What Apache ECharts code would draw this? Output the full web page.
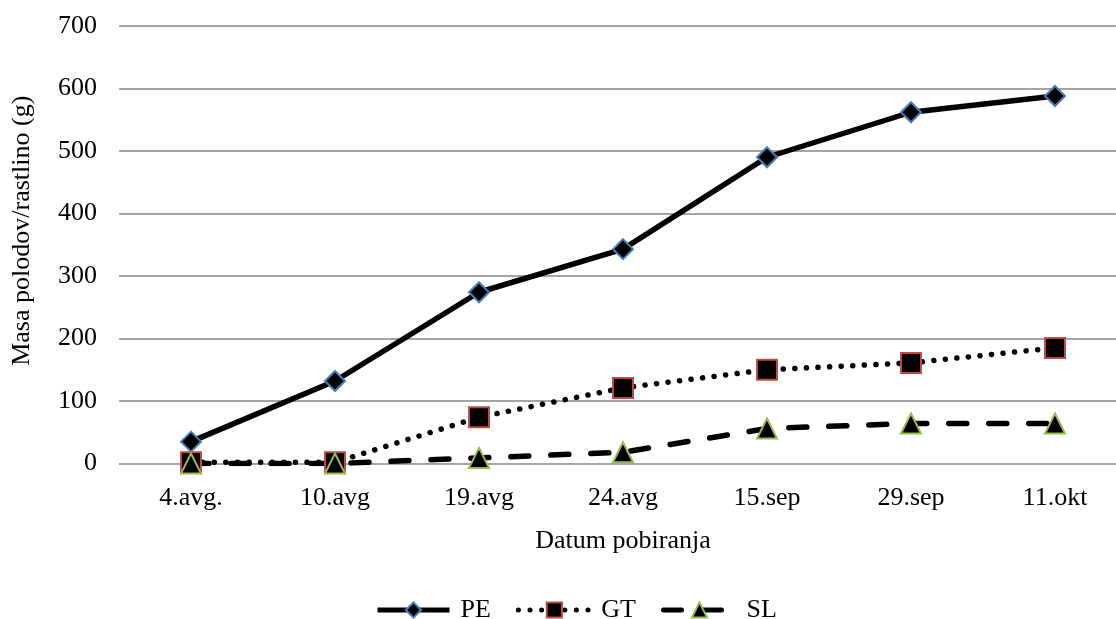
<!DOCTYPE html>
<html>
<head>
<meta charset="utf-8">
<script src="https://cdn.jsdelivr.net/npm/echarts@6/dist/echarts.min.js"></script>
<style>
html,body{margin:0;padding:0;background:#fff;}
#chart{width:1116px;height:619px;}
</style>
</head>
<body>
<div id="chart"></div>
<script>
const categories = ['4.avg.', '10.avg', '19.avg', '24.avg', '15.sep', '29.sep', '11.okt'];
const PE = [35, 132, 274, 343, 490, 562, 588];
const GT = [2, 2, 74, 121, 150, 161, 185];
const SL = [0, 0, 9, 18, 56, 64, 64];
const yTicks = [0, 100, 200, 300, 400, 500, 600, 700];

const FONT = "'Liberation Serif', 'Times New Roman', serif";
const chart = echarts.init(document.getElementById('chart'), null, {renderer: 'canvas'});
chart.setOption({
  animation: false,
  backgroundColor: '#fff',
  textStyle: {fontFamily: FONT, color: '#000'},
  grid: {left: 119, top: 26, width: 1008, height: 437.5, outerBoundsMode: 'none', containLabel: false},
  legend: {
    data: ['PE', 'GT', 'SL'],
    left: 370, top: 592,
    itemWidth: 72, itemHeight: 19, itemGap: 25,
    lineStyle: {width: 5},
    textStyle: {fontFamily: FONT, fontSize: 26, color: '#000', padding: [0, 0, 0, 6]}
  },
  xAxis: {
    type: 'category',
    data: categories,
    boundaryGap: true,
    axisLine: {show: false},
    axisTick: {show: false},
    axisLabel: {fontFamily: FONT, fontSize: 26, color: '#000', margin: 22},
    name: 'Datum pobiranja',
    nameLocation: 'middle',
    nameGap: 65,
    nameTextStyle: {fontFamily: FONT, fontSize: 26, color: '#000'}
  },
  yAxis: {
    type: 'value',
    min: yTicks[0], max: yTicks[yTicks.length - 1], interval: 100,
    axisLine: {show: false},
    axisTick: {show: false},
    axisLabel: {fontFamily: FONT, fontSize: 26, color: '#000', margin: 22},
    splitLine: {lineStyle: {color: '#868686', width: 1.5}},
    name: 'Masa polodov/rastlino (g)',
    nameLocation: 'middle',
    nameGap: 84,
    nameTextStyle: {fontFamily: FONT, fontSize: 26, color: '#000', padding: [0, 0, 0, 28]}
  },
  series: [
    {
      name: 'PE', type: 'line', data: PE,
      symbol: 'diamond', symbolSize: 20,
      lineStyle: {color: '#000', width: 5.5},
      itemStyle: {color: '#000', borderColor: '#4a7ebb', borderWidth: 2}
    },
    {
      name: 'GT', type: 'line', data: GT,
      symbol: 'rect', symbolSize: 20,
      lineStyle: {color: '#000', width: 5.5, type: [0.1, 11.5], cap: 'round'},
      itemStyle: {color: '#000', borderColor: '#be4b48', borderWidth: 2}
    },
    {
      name: 'SL', type: 'line', data: SL,
      symbol: 'triangle', symbolSize: 20,
      lineStyle: {color: '#000', width: 5.5, type: [18, 22], cap: 'round'},
      itemStyle: {color: '#000', borderColor: '#98b954', borderWidth: 2}
    }
  ]
});
</script>
</body>
</html>
